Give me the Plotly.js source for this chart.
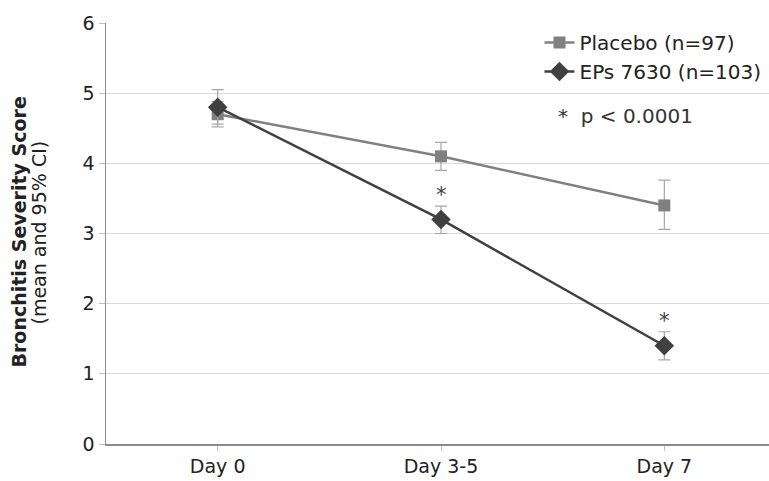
<!DOCTYPE html>
<html>
<head>
<meta charset="utf-8">
<script src="https://cdn.plot.ly/plotly-3.0.1.min.js"></script>
<style>html,body{margin:0;padding:0;overflow:hidden;background:#fff;}</style>
</head>
<body>
<div id="chart"></div>
<script>
const days = ["Day 0", "Day 3-5", "Day 7"];
const placeboMean = [4.7, 4.1, 3.4];
const placeboLow = [4.52, 3.9, 3.06];
const placeboHigh = [4.88, 4.3, 3.76];
const epsMean = [4.8, 3.2, 1.4];
const epsLow = [4.56, 3.0, 1.2];
const epsHigh = [5.05, 3.39, 1.6];
const significant = [false, true, true];
const yTicks = [0, 1, 2, 3, 4, 5, 6];
const yTitleMain = "Bronchitis Severity Score";
const yTitleSub = "(mean and 95% CI)";

const font = "DejaVu Sans, Verdana, sans-serif";

function errs(mean, low, high) {
  return {
    type: "data", symmetric: false,
    array: high.map((h, i) => h - mean[i]),
    arrayminus: mean.map((m, i) => m - low[i]),
    color: "#a6a6a6", thickness: 1.2, width: 6
  };
}

const traces = [
  {
    x: days, y: placeboMean, name: "Placebo (n=97)", type: "scatter", mode: "lines+markers",
    line: {color: "#808080", width: 2.5},
    marker: {symbol: "square", size: 12, color: "#808080"},
    error_y: errs(placeboMean, placeboLow, placeboHigh)
  },
  {
    x: days, y: epsMean, name: "EPs 7630 (n=103)", type: "scatter", mode: "lines+markers",
    line: {color: "#404040", width: 2.5},
    marker: {symbol: "diamond", size: 15, color: "#404040"},
    error_y: errs(epsMean, epsLow, epsHigh)
  }
];

const annotations = [];
days.forEach((d, i) => {
  if (significant[i]) {
    annotations.push({
      x: d, y: epsHigh[i], xref: "x", yref: "y", text: "*", showarrow: false,
      yanchor: "bottom", yshift: -3, font: {family: font, size: 21, color: "#404040"}
    });
  }
});
annotations.push({
  xref: "paper", yref: "paper", x: 0.672, y: 0.779, xanchor: "left", yanchor: "middle",
  text: "*  p < 0.0001", showarrow: false, font: {family: font, size: 20, color: "#333"}
});
annotations.push({
  xref: "paper", yref: "paper", x: 0, y: 0.5, xanchor: "center", yanchor: "middle",
  xshift: -88, yshift: 1, textangle: -90, text: "<b>" + yTitleMain + "</b>", showarrow: false,
  font: {family: font, size: 19, color: "#222"}
});
annotations.push({
  xref: "paper", yref: "paper", x: 0, y: 0.5, xanchor: "center", yanchor: "middle",
  xshift: -68, yshift: 1, textangle: -90, text: yTitleSub, showarrow: false,
  font: {family: font, size: 19, color: "#222"}
});

const layout = {
  width: 780, height: 481,
  margin: {l: 106, r: 4, t: 23, b: 37},
  paper_bgcolor: "#fff", plot_bgcolor: "#fff",
  font: {family: font, size: 19, color: "#222"},
  showlegend: true,
  legend: {
    x: 0.647, y: 1.0, xanchor: "left", yanchor: "top",
    bgcolor: "rgba(255,255,255,0)", font: {family: font, size: 20, color: "#222"},
    tracegroupgap: 0, itemwidth: 30
  },
  xaxis: {
    type: "category", categoryorder: "array", categoryarray: days,
    range: [-0.5, 2.5], showgrid: false, zeroline: false,
    showline: true, linecolor: "#8c8c8c", linewidth: 1.5,
    ticks: "outside", ticklen: 5, tickcolor: "#bfbfbf",
    tickfont: {family: font, size: 19, color: "#222"}
  },
  yaxis: {
    range: [0, 6], tickvals: yTicks, showgrid: true, gridcolor: "#d9d9d9", gridwidth: 1,
    zeroline: false, showline: true, linecolor: "#8c8c8c", linewidth: 1.5,
    ticks: "outside", ticklen: 6, tickcolor: "#bfbfbf",
    tickfont: {family: font, size: 19, color: "#222"}
  },
  annotations: annotations
};

Plotly.newPlot("chart", traces, layout, {displayModeBar: false, staticPlot: true});
</script>
</body>
</html>
